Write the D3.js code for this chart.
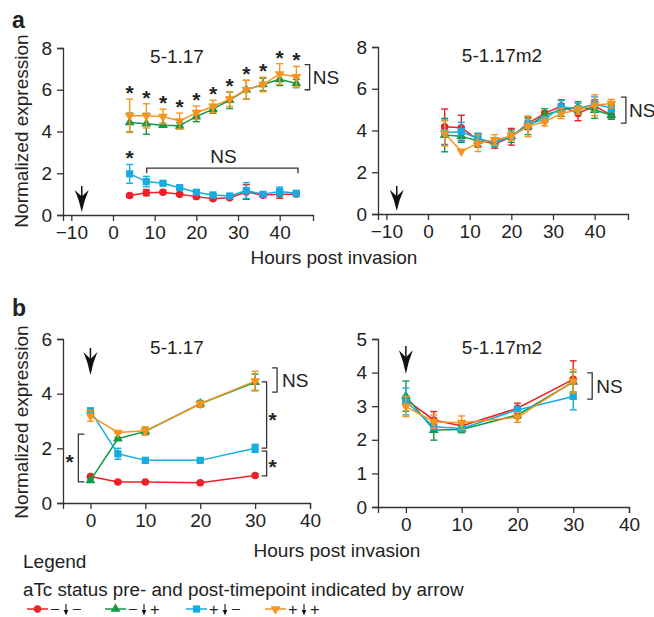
<!DOCTYPE html>
<html>
<head>
<meta charset="utf-8">
<style>
body { margin: 0; background: #fff; }
svg text { font-family: "Liberation Sans", Arial, Helvetica, sans-serif; fill: #222; }
.axis path, .axis line { stroke: #333; stroke-width: 1.3; }
.axis text { font-size: 19px; fill: #222; }
</style>
</head>
<body>
<svg width="654" height="617"></svg>
<script src="https://d3js.org/d3.v7.min.js"></script>
<script>

// ---- data ----
var aHours = [4, 8, 12, 16, 20, 24, 28, 32, 36, 40, 44];
var bHours = [0, 5, 10, 20, 30];

// panel a, strain 5-1.17
var a1Red       = [0.93, 1.07, 1.09, 0.99, 0.88, 0.78, 0.83, 1.10, 0.95, 1.00, 1.00];
var a1RedErr    = [0.08, 0.15, 0.08, 0.06, 0.06, 0.06, 0.08, 0.35, 0.08, 0.20, 0.10];
var a1Green     = [4.43, 4.37, 4.30, 4.27, 4.72, 5.07, 5.50, 6.00, 6.25, 6.50, 6.30];
var a1GreenErr  = [0.45, 0.50, 0.08, 0.15, 0.25, 0.20, 0.40, 0.45, 0.30, 0.30, 0.20];
var a1Cyan      = [1.97, 1.60, 1.52, 1.31, 1.09, 0.96, 0.91, 1.17, 0.99, 1.12, 1.04];
var a1CyanErr   = [0.45, 0.25, 0.06, 0.06, 0.06, 0.06, 0.06, 0.38, 0.08, 0.22, 0.08];
var a1Orange    = [4.75, 4.75, 4.72, 4.50, 4.90, 5.20, 5.55, 6.00, 6.25, 6.75, 6.62];
var a1OrangeErr = [0.80, 0.58, 0.35, 0.38, 0.32, 0.30, 0.35, 0.45, 0.35, 0.50, 0.50];

// panel a, strain 5-1.17m2
var a2Red       = [4.18, 4.13, 3.55, 3.35, 3.70, 4.34, 4.82, 5.17, 4.82, 5.17, 4.74];
var a2RedErr    = [0.85, 0.60, 0.30, 0.20, 0.40, 0.30, 0.10, 0.30, 0.35, 0.30, 0.20];
var a2Green     = [3.78, 3.73, 3.50, 3.46, 3.73, 4.20, 4.74, 4.98, 5.13, 4.98, 4.74];
var a2GreenErr  = [0.80, 0.30, 0.30, 0.20, 0.30, 0.40, 0.30, 0.30, 0.25, 0.40, 0.20];
var a2Cyan      = [3.90, 3.94, 3.62, 3.42, 3.73, 4.30, 4.53, 5.13, 5.05, 5.26, 5.09];
var a2CyanErr   = [0.60, 0.45, 0.25, 0.20, 0.20, 0.20, 0.15, 0.30, 0.25, 0.35, 0.20];
var a2Orange    = [3.86, 3.00, 3.39, 3.55, 3.73, 4.20, 4.42, 4.82, 4.98, 5.21, 5.29];
var a2OrangeErr = [0.60, 0.00, 0.40, 0.25, 0.20, 0.50, 0.20, 0.25, 0.20, 0.50, 0.20];

// panel b, strain 5-1.17
var b1Red       = [0.97, 0.77, 0.77, 0.74, 1.01];
var b1RedErr    = [0.05, 0.04, 0.04, 0.04, 0.05];
var b1Green     = [0.83, 2.35, 2.62, 3.63, 4.42];
var b1GreenErr  = [0.05, 0.05, 0.12, 0.12, 0.30];
var b1Cyan      = [3.37, 1.80, 1.56, 1.56, 2.00];
var b1CyanErr   = [0.10, 0.20, 0.10, 0.05, 0.15];
var b1Orange    = [3.19, 2.58, 2.64, 3.63, 4.46];
var b1OrangeErr = [0.20, 0.04, 0.15, 0.10, 0.36];

// panel b, strain 5-1.17m2
var b2Red       = [3.20, 2.59, 2.41, 2.94, 3.80];
var b2RedErr    = [0.10, 0.25, 0.05, 0.15, 0.55];
var b2Green     = [3.30, 2.29, 2.31, 2.74, 3.72];
var b2GreenErr  = [0.45, 0.30, 0.10, 0.10, 0.30];
var b2Cyan      = [3.14, 2.39, 2.34, 2.89, 3.29];
var b2CyanErr   = [0.40, 0.05, 0.08, 0.10, 0.40];
var b2Orange    = [2.99, 2.54, 2.51, 2.67, 3.74];
var b2OrangeErr = [0.30, 0.20, 0.20, 0.15, 0.35];

var aTicksX = [-10, 0, 10, 20, 30, 40];
var aTicksY = [0, 2, 4, 6, 8];
var bTicksX = [0, 10, 20, 30, 40];
var b1TicksY = [0, 2, 4, 6];
var b2TicksY = [0, 1, 2, 3, 4, 5];

var seriesNames = ["red", "green", "cyan", "orange"];
var colors = { red: "#ec2027", green: "#139a48", cyan: "#16acdf", orange: "#f7941e" };
var legendSigns = [["−", "−"], ["−", "+"], ["+", "−"], ["+", "+"]];

// ---- drawing ----
var svg = d3.select("svg");
var fmt = d3.format("d");

function markerPath(name) {
  if (name === "red") return d3.symbol().type(d3.symbolCircle).size(44)();
  if (name === "green") return d3.symbol().type(d3.symbolTriangle).size(42)();
  if (name === "cyan") return d3.symbol().type(d3.symbolSquare).size(52)();
  return d3.symbol().type(d3.symbolTriangle).size(42)();
}
function markerRot(name) { return name === "orange" ? " rotate(180)" : ""; }

function drawPanel(cfg) {
  var x = d3.scaleLinear().domain(cfg.xDomain).range([cfg.left, cfg.right]);
  var y = d3.scaleLinear().domain(cfg.yDomain).range([cfg.bottom, cfg.top]);

  svg.append("g").attr("class", "axis")
      .attr("transform", "translate(0," + cfg.bottom + ")")
      .call(d3.axisBottom(x).tickValues(cfg.xTicks).tickFormat(fmt).tickSizeOuter(0).tickSize(6).tickPadding(5));
  svg.append("g").attr("class", "axis")
      .attr("transform", "translate(" + cfg.left + ",0)")
      .call(d3.axisLeft(y).tickValues(cfg.yTicks).tickFormat(fmt).tickSizeOuter(0).tickSize(6).tickPadding(5));

  svg.append("text").attr("x", cfg.titleX).attr("y", cfg.top + 15)
      .attr("text-anchor", "middle").style("font-size", "19px").text(cfg.title);

  var line = d3.line().x(function(d) { return x(d.h); }).y(function(d) { return y(d.v); });

  cfg.series.forEach(function(s, si) {
    var name = seriesNames[si];
    var col = colors[name];
    var pts = cfg.hours.map(function(h, i) { return { h: h, v: s.v[i], e: s.e[i] }; });
    var g = svg.append("g");
    pts.forEach(function(p) {
      if (p.e <= 0) return;
      var xx = x(p.h), y0 = y(p.v - p.e), y1 = y(p.v + p.e);
      g.append("line").attr("x1", xx).attr("x2", xx).attr("y1", y0).attr("y2", y1)
          .attr("stroke", col).attr("stroke-width", 1.4);
      [y0, y1].forEach(function(yy) {
        g.append("line").attr("x1", xx - 3.5).attr("x2", xx + 3.5).attr("y1", yy).attr("y2", yy)
            .attr("stroke", col).attr("stroke-width", 1.4);
      });
    });
    g.append("path").datum(pts).attr("d", line)
        .attr("fill", "none").attr("stroke", col).attr("stroke-width", 1.5);
    g.selectAll(".m").data(pts).enter().append("path")
        .attr("d", markerPath(name))
        .attr("transform", function(d) { return "translate(" + x(d.h) + "," + y(d.v) + ")" + markerRot(name); })
        .attr("fill", col);
  });

  // arrow marking the aTc switch
  drawArrow(x(cfg.arrowX), cfg.arrowTop, cfg.arrowBottom, 7);

  return { x: x, y: y };
}

function drawArrow(xx, yTop, yBottom, hw) {
  var headLen = (yBottom - yTop) * 0.85;
  svg.append("line").attr("x1", xx).attr("x2", xx).attr("y1", yTop).attr("y2", yBottom - 4)
      .attr("stroke", "#111").attr("stroke-width", 1.5);
  var yb = yBottom - headLen;
  svg.append("path")
      .attr("d", "M" + xx + "," + yBottom +
                 " Q" + (xx - hw * 0.35) + "," + (yb + headLen * 0.45) + " " + (xx - hw) + "," + yb +
                 " L" + xx + "," + (yb + headLen * 0.3) +
                 " L" + (xx + hw) + "," + yb +
                 " Q" + (xx + hw * 0.35) + "," + (yb + headLen * 0.45) + " " + xx + "," + yBottom + "Z")
      .attr("fill", "#111");
}

// vertical bracket: ticks pointing left (dir=-1) or right (dir=1)
function bracket(xx, y0, y1, len, dir) {
  svg.append("path")
      .attr("d", "M" + (xx + dir * len) + "," + y0 + " H" + xx + " V" + y1 + " H" + (xx + dir * len))
      .attr("fill", "none").attr("stroke", "#333").attr("stroke-width", 1.3);
}
function label(xx, yy, txt, anchor, size) {
  svg.append("text").attr("x", xx).attr("y", yy).attr("text-anchor", anchor || "start")
      .style("font-size", (size || 19) + "px").text(txt);
}
function star(xx, yc) {
  svg.append("text").attr("x", xx).attr("y", yc + 12).attr("text-anchor", "middle")
      .style("font-size", "21px").style("font-weight", "bold").text("*");
}

// panel a
var pA1 = drawPanel({
  left: 63, right: 313, top: 48, bottom: 215, xDomain: [-12, 48], yDomain: [0, 8],
  xTicks: aTicksX, yTicks: aTicksY, hours: aHours, title: "5-1.17", titleX: 177,
  arrowX: -7.5, arrowTop: 186, arrowBottom: 212,
  series: [{ v: a1Red, e: a1RedErr }, { v: a1Green, e: a1GreenErr },
           { v: a1Cyan, e: a1CyanErr }, { v: a1Orange, e: a1OrangeErr }]
});
var pA2 = drawPanel({
  left: 378, right: 628, top: 47, bottom: 214, xDomain: [-12, 48], yDomain: [0, 8],
  xTicks: aTicksX, yTicks: aTicksY, hours: aHours, title: "5-1.17m2", titleX: 502,
  arrowX: -7.5, arrowTop: 186, arrowBottom: 211,
  series: [{ v: a2Red, e: a2RedErr }, { v: a2Green, e: a2GreenErr },
           { v: a2Cyan, e: a2CyanErr }, { v: a2Orange, e: a2OrangeErr }]
});

// panel b
var pB1 = drawPanel({
  left: 63, right: 310, top: 339, bottom: 503, xDomain: [-5, 40], yDomain: [0, 6],
  xTicks: bTicksX, yTicks: b1TicksY, hours: bHours, title: "5-1.17", titleX: 177,
  arrowX: 0, arrowTop: 348, arrowBottom: 375,
  series: [{ v: b1Red, e: b1RedErr }, { v: b1Green, e: b1GreenErr },
           { v: b1Cyan, e: b1CyanErr }, { v: b1Orange, e: b1OrangeErr }]
});
var pB2 = drawPanel({
  left: 378, right: 629, top: 339, bottom: 507, xDomain: [-5, 40], yDomain: [0, 5],
  xTicks: bTicksX, yTicks: b2TicksY, hours: bHours, title: "5-1.17m2", titleX: 502,
  arrowX: 0, arrowTop: 346, arrowBottom: 374,
  series: [{ v: b2Red, e: b2RedErr }, { v: b2Green, e: b2GreenErr },
           { v: b2Cyan, e: b2CyanErr }, { v: b2Orange, e: b2OrangeErr }]
});

// significance marks, panel a left
aHours.forEach(function(h, i) {
  var top = Math.max(a1Green[i] + a1GreenErr[i], a1Orange[i] + a1OrangeErr[i]);
  star(pA1.x(h), pA1.y(top) - 11);
});
star(pA1.x(4), pA1.y(a1Cyan[0] + a1CyanErr[0]) - 11);
bracket(pA1.x(47.2), pA1.y(7.2), pA1.y(6.0), 5, -1);
label(pA1.x(47.2) + 3, pA1.y(6.6) + 7, "NS");
svg.append("path")
    .attr("d", "M" + pA1.x(8.1) + "," + pA1.y(2.0) + " V" + pA1.y(2.25) +
               " H" + pA1.x(44.4) + " V" + pA1.y(2.0))
    .attr("fill", "none").attr("stroke", "#333").attr("stroke-width", 1.3);
label(pA1.x(26.5), pA1.y(2.5), "NS", "middle");

// panel a right
bracket(pA2.x(47.5), pA2.y(5.6), pA2.y(4.35), 5, -1);
label(pA2.x(47.5) + 3, pA2.y(4.97) + 7, "NS");

// panel b left
bracket(pB1.x(34), pB1.y(4.94), pB1.y(4.06), 5, -1);
label(pB1.x(34) + 5, pB1.y(4.5) + 7, "NS");
bracket(pB1.x(32.1), pB1.y(4.43), pB1.y(2.01), 5, -1);
star(pB1.x(33.2), pB1.y(3.22));
bracket(pB1.x(32.1), pB1.y(1.9), pB1.y(0.99), 5, -1);
star(pB1.x(33.2), pB1.y(1.5));
bracket(pB1.x(-2.2), pB1.y(2.52), pB1.y(0.77), 6, 1);
star(pB1.x(-3.8), pB1.y(1.7));

// panel b right
bracket(pB2.x(33.4), pB2.y(3.99), pB2.y(3.21), 5, -1);
label(pB2.x(33.4) + 4, pB2.y(3.6) + 7, "NS");

// panel letters and axis titles
svg.append("text").attr("x", 12).attr("y", 28).style("font-size", "23px").style("font-weight", "bold").text("a");
svg.append("text").attr("x", 12).attr("y", 316).style("font-size", "23px").style("font-weight", "bold").text("b");
[131, 422].forEach(function(cy) {
  svg.append("text").attr("transform", "translate(28," + cy + ") rotate(-90)")
      .attr("text-anchor", "middle").style("font-size", "19px").text("Normalized expression");
});
label(334, 264, "Hours post invasion", "middle");
label(337, 557, "Hours post invasion", "middle");

// legend
label(23, 568, "Legend", "start", 19);
label(23, 596, "aTc status pre- and post-timepoint indicated by arrow", "start", 18.8);
var legX = [27, 105, 186, 265];
seriesNames.forEach(function(name, i) {
  var lx = legX[i], ly = 609;
  svg.append("line").attr("x1", lx).attr("x2", lx + 21).attr("y1", ly).attr("y2", ly)
      .attr("stroke", colors[name]).attr("stroke-width", 1.5);
  svg.append("path").attr("d", markerPath(name))
      .attr("transform", "translate(" + (lx + 10.5) + "," + ly + ")" + markerRot(name))
      .attr("fill", colors[name]);
  var tx = lx + 23;
  svg.append("text").attr("x", tx).attr("y", ly + 5.5).style("font-size", "16.5px").text(legendSigns[i][0]);
  var ax = tx + 16;
  svg.append("line").attr("x1", ax).attr("x2", ax).attr("y1", ly - 5).attr("y2", ly + 2)
      .attr("stroke", "#111").attr("stroke-width", 1.1);
  svg.append("path").attr("d", "M" + (ax - 2.3) + "," + (ly + 1) + " L" + (ax + 2.3) + "," + (ly + 1) + " L" + ax + "," + (ly + 6.5) + "Z")
      .attr("fill", "#111");
  svg.append("text").attr("x", tx + 22).attr("y", ly + 5.5).style("font-size", "16.5px").text(legendSigns[i][1]);
});

</script>
</body>
</html>
